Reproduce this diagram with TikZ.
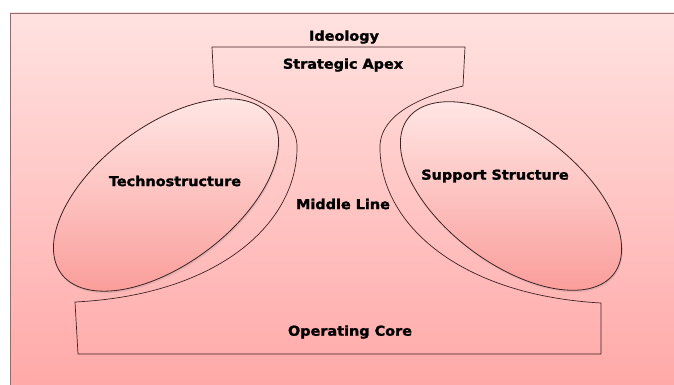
\documentclass[tikz,border=0pt]{standalone}
\usepackage{fontspec}
\newfontfamily\lblfont{DejaVu Sans}[BoldFont={DejaVu Sans Bold}, BoldFeatures={FakeBold=1.6}]
\usetikzlibrary{shadows}
\definecolor{bgtop}{HTML}{FFE2E0}
\definecolor{bgbot}{HTML}{FFA7A6}
\definecolor{elltop}{HTML}{FFE6E4}
\definecolor{ellbot}{HTML}{FA9E9B}
\definecolor{edge}{HTML}{3E2222}
\definecolor{framec}{HTML}{8C6E6E}
\tikzset{
  lbl/.style={font=\lblfont\bfseries\fontsize{13.6}{16}\selectfont, inner sep=0pt, text=black},
  outline/.style={draw=edge, line width=0.7pt},
  ellshape/.style={draw=edge, line width=0.8pt, top color=elltop, bottom color=ellbot,
    drop shadow={opacity=0.2, shadow xshift=1pt, shadow yshift=-2pt}},
}
\newcommand\wide[1]{\scalebox{1.06}[1]{#1}}
\begin{document}
\begin{tikzpicture}[x=1pt,y=-1pt]
\useasboundingbox (0,0) rectangle (674,385);
\begin{scope}
\clip (0,0) rectangle (674,385);
\shade[top color=bgtop, bottom color=bgbot, draw=framec, line width=0.9pt] (10,13) rectangle (690,400);
\end{scope}
% ellipses
\path[ellshape] plot[domain=0:360, samples=120, smooth cycle]
  ({166+131*cos(\x)*cos(37)-69*sin(\x)*sin(37)}, {195-(131*cos(\x)*sin(37)+69*sin(\x)*cos(37))});
\path[ellshape] plot[domain=0:360, samples=120, smooth cycle]
  ({511+129*cos(\x)*cos(-37)-67*sin(\x)*sin(-37)}, {196-(129*cos(\x)*sin(-37)+67*sin(\x)*cos(-37))});
% apex / middle line / operating core outline
\draw[outline] (212,47) -- (465,47) -- (463,86)
  .. controls (420,97) and (378,115) .. (380,150)
  .. controls (382,225) and (460,295) .. (601,303)
  -- (601,354) -- (78,354) -- (75,302)
  .. controls (217,295) and (295,225) .. (297,150)
  .. controls (299,115) and (257,97) .. (214,86) -- cycle;
% labels
\node[lbl] (ideo) at (344,37) {\wide{Ideology}};
\node[lbl] (apex) at (343,65) {\wide{Strategic Apex}};
\node[lbl] (tech) at (175,181) {\wide{Technostructure}};
\node[lbl] (supp) at (495,176) {\wide{Support Structure}};
\node[lbl] (mid) at (343,204) {\wide{Middle Line}};
\node[lbl] (core) at (350,332) {\wide{Operating Core}};
\end{tikzpicture}
\end{document}
